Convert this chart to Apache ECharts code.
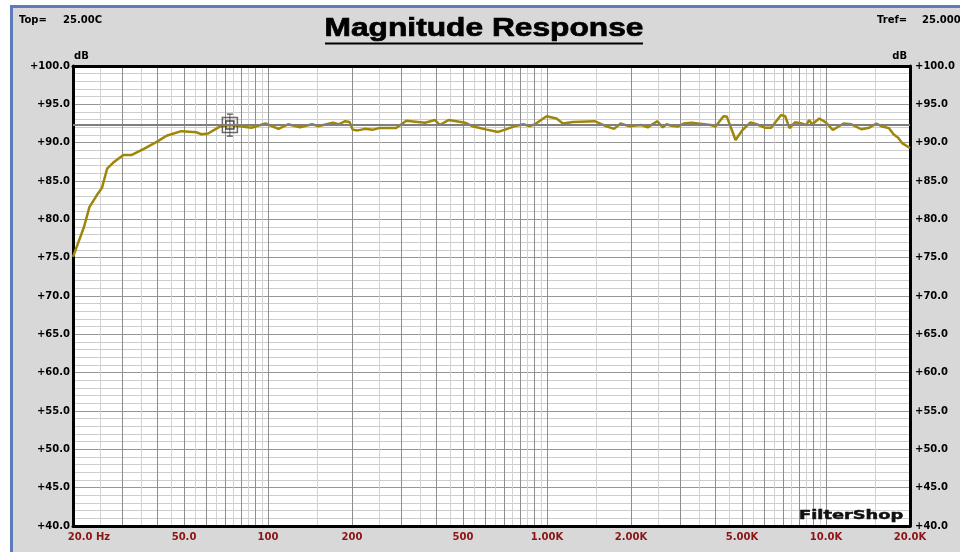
<!DOCTYPE html>
<html>
<head>
<meta charset="utf-8">
<script src="https://cdn.jsdelivr.net/npm/echarts@6/dist/echarts.min.js"></script>
<style>
html, body { margin: 0; padding: 0; background: #fff; }
#chart { width: 960px; height: 552px; }
</style>
</head>
<body>
<div id="chart"></div>
<script>
var freqHz = [20, 21.9, 22.9, 24.3, 25.4, 26.5, 27.9, 30.3, 32.5, 35.9, 39.9, 43.3, 48.9, 55.5, 57.7, 61, 67.2, 72.9, 80.6, 87.2,
    92, 98, 109, 118, 130, 144, 151, 171, 179, 189, 196, 201, 210, 222, 238, 250, 288, 313, 345, 365,
    397, 413, 443, 474, 508, 545, 608, 668, 708, 758, 822, 869, 905, 996, 1081, 1141, 1238, 1481, 1625, 1738,
    1836, 1964, 2180, 2296, 2482, 2600, 2684, 2790, 2940, 3100, 3300, 3860, 4020, 4290, 4410, 4740, 5020, 5360, 5640, 6030,
    6360, 6900, 7140, 7400, 7740, 8170, 8500, 8690, 8920, 9460, 9980, 10580, 11560, 12340, 13380, 14290, 15150, 15900, 16790, 17460,
    18140, 18790, 20000];
var levelDb = [75.1, 79.0, 81.6, 83.1, 84.1, 86.6, 87.4, 88.4, 88.4, 89.2, 90.1, 90.9, 91.5, 91.35, 91.1, 91.2, 92.1, 92.3, 92.1, 91.95,
    92.2, 92.5, 91.8, 92.4, 92.0, 92.4, 92.15, 92.6, 92.4, 92.8, 92.7, 91.7, 91.6, 91.8, 91.7, 91.9, 91.9, 92.85, 92.7, 92.6,
    92.95, 92.3, 92.95, 92.8, 92.6, 92.1, 91.7, 91.4, 91.7, 92.1, 92.4, 92.15, 92.4, 93.45, 93.15, 92.5, 92.7, 92.8, 92.15, 91.8,
    92.5, 92.15, 92.3, 92.0, 92.8, 92.0, 92.4, 92.2, 92.1, 92.5, 92.6, 92.3, 92.1, 93.45, 93.4, 90.35, 91.65, 92.65, 92.4, 91.95,
    91.95, 93.6, 93.45, 91.9, 92.65, 92.5, 92.3, 92.95, 92.4, 93.15, 92.65, 91.65, 92.5, 92.4, 91.75, 91.95, 92.5, 92.1, 91.9, 91.1,
    90.65, 89.9, 89.3];

var tickFreqs = [20, 50, 100, 200, 500, 1000, 2000, 5000, 10000, 20000];
var tickLabels = ['20.0 Hz', '50.0', '100', '200', '500', '1.00K', '2.00K', '5.00K', '10.0K', '20.0K'];
var gridMantissa = [1, 2, 3, 4, 5, 6, 7, 8, 9];
var gridMinorMantissa = [1.5, 2.5, 3.5, 4.5, 5.5, 6.5, 7.5, 8.5, 9.5];
var gridDecades = [10, 100, 1000, 10000];
var trefLevel = 92.3;
var cursorPoint = [73, 92.3];

var F_MIN = 20, F_MAX = 20000, DB_MIN = 40, DB_MAX = 100;

function decadeLines(mant) {
    var out = [];
    gridDecades.forEach(function (d) {
        mant.forEach(function (m) {
            var f = Math.round(m * d * 1000) / 1000;
            if (f > F_MIN && f < F_MAX) out.push(f);
        });
    });
    return out;
}

function freqLabel(v) {
    for (var i = 0; i < tickFreqs.length; i++) {
        if (Math.abs(Math.log10(v / tickFreqs[i])) < 1e-6) {
            return i === 0 ? '{first|' + tickLabels[i] + '}' : tickLabels[i];
        }
    }
    return '';
}

var labelFont = { fontFamily: 'DejaVu Sans', fontWeight: 'bold', fontSize: 10 };
var frameLine = { show: true, onZero: false, lineStyle: { color: '#000', width: 3 } };

function logAxis(extra) {
    return Object.assign({
        type: 'log', logBase: 10, min: F_MIN, max: F_MAX, position: 'bottom',
        axisLine: { show: false, onZero: false }, axisTick: { show: false },
        axisLabel: { show: false }, splitLine: { show: false }
    }, extra);
}
function dbAxis(extra) {
    return Object.assign({
        type: 'value', min: DB_MIN, max: DB_MAX, interval: 5, position: 'left',
        axisLine: { show: false, onZero: false }, axisTick: { show: false },
        axisLabel: { show: false }, splitLine: { show: false }
    }, extra);
}
var dbLabel = Object.assign({
    show: true, color: '#000', margin: 4,
    formatter: function (v) { return '+' + v.toFixed(1); }
}, labelFont);

var chart = echarts.init(document.getElementById('chart'));
chart.setOption({
    animation: false,
    backgroundColor: '#fff',
    grid: { left: 73, right: 50, top: 66, bottom: 26, show: true, backgroundColor: '#fff', borderWidth: 0, outerBoundsMode: 'none' },
    xAxis: [
        logAxis({ z: 0, axisTick: { show: false, customValues: decadeLines(gridMinorMantissa) },
            splitLine: { show: true, lineStyle: { color: '#d2d2d2', width: 1 } } }),
        logAxis({ z: 0, axisTick: { show: false, customValues: decadeLines(gridMantissa) },
            splitLine: { show: true, lineStyle: { color: '#8e8e8e', width: 1 } } }),
        logAxis({ z: 1, axisLine: frameLine,
            axisLabel: Object.assign({ show: true, color: '#8b1414', margin: 6, customValues: tickFreqs,
                formatter: freqLabel, hideOverlap: false,
                rich: { first: Object.assign({ color: '#8b1414', padding: [0, 0, 0, 32] }, labelFont) } }, labelFont) }),
        logAxis({ z: 1, position: 'top', axisLine: frameLine })
    ],
    yAxis: [
        dbAxis({ z: 0, splitLine: { show: true, lineStyle: { color: '#959595', width: 1 } },
            minorTick: { show: false, splitNumber: 5 },
            minorSplitLine: { show: true, lineStyle: { color: '#cdcdcd', width: 1 } } }),
        dbAxis({ z: 1, position: 'right', axisLine: frameLine, axisLabel: Object.assign({}, dbLabel, { margin: 5 }) }),
        dbAxis({ z: 1, position: 'left', axisLine: frameLine, axisLabel: Object.assign({}, dbLabel, { margin: 3 }) })
    ],
    graphic: [
        { type: 'rect', z: -10, silent: true, shape: { x: 10, y: 5, width: 950, height: 547 }, style: { fill: '#5b7bbd' } },
        { type: 'rect', z: -9, silent: true, shape: { x: 13, y: 8, width: 947, height: 544 }, style: { fill: '#d8d8d8' } },
        { type: 'text', x: 484, y: 29, scaleX: 1.22, z: 5,
            style: { text: 'Magnitude Response', font: 'bold 26px "Liberation Sans", Arial, sans-serif', fill: '#000',
                stroke: '#000', lineWidth: 0.7, align: 'center', verticalAlign: 'middle' } },
        { type: 'line', z: 5, shape: { x1: 325, y1: 43.5, x2: 643, y2: 43.5 }, style: { stroke: '#000', lineWidth: 2 } },
        { type: 'text', x: 19, y: 20.5, z: 5, style: { text: 'Top=', font: 'bold 10px "DejaVu Sans"', fill: '#000', verticalAlign: 'middle' } },
        { type: 'text', x: 63, y: 20.5, z: 5, style: { text: '25.00C', font: 'bold 10px "DejaVu Sans"', fill: '#000', verticalAlign: 'middle' } },
        { type: 'text', x: 877, y: 20.5, z: 5, style: { text: 'Tref=', font: 'bold 10px "DejaVu Sans"', fill: '#000', verticalAlign: 'middle' } },
        { type: 'text', x: 922, y: 20.5, z: 5, style: { text: '25.000', font: 'bold 10px "DejaVu Sans"', fill: '#000', verticalAlign: 'middle' } },
        { type: 'text', x: 74, y: 56.5, z: 5, style: { text: 'dB', font: 'bold 10px "DejaVu Sans"', fill: '#000', verticalAlign: 'middle' } },
        { type: 'text', x: 907, y: 56.5, z: 5, style: { text: 'dB', font: 'bold 10px "DejaVu Sans"', fill: '#000', align: 'right', verticalAlign: 'middle' } },
        { type: 'text', x: 799, y: 515.5, scaleX: 1.37, z: 5,
            style: { text: 'FilterShop', font: 'bold 13px "DejaVu Sans"', fill: '#111', stroke: '#111', lineWidth: 0.5,
                verticalAlign: 'middle', textShadowColor: '#888', textShadowOffsetX: 1, textShadowOffsetY: 1, textShadowBlur: 0 } }
    ],
    series: [
        {
            type: 'line', xAxisIndex: 0, yAxisIndex: 0, showSymbol: false, symbol: 'none',
            data: freqHz.map(function (f, i) { return [f, levelDb[i]]; }),
            lineStyle: { color: '#9e860a', width: 2.5 },
            markLine: {
                silent: true, symbol: 'none', label: { show: false },
                lineStyle: { color: '#7f7f7f', width: 2, type: 'solid' },
                data: [{ yAxis: trefLevel }]
            },
            z: 3
        },
        {
            type: 'scatter', xAxisIndex: 0, yAxisIndex: 0, z: 4, data: [cursorPoint],
            symbol: 'rect', symbolSize: 15,
            itemStyle: { color: 'rgba(0,0,0,0)', borderColor: '#444', borderWidth: 1.5 }
        },
        {
            type: 'scatter', xAxisIndex: 0, yAxisIndex: 0, z: 4, data: [cursorPoint],
            symbol: 'rect', symbolSize: 8,
            itemStyle: { color: 'rgba(0,0,0,0)', borderColor: '#222', borderWidth: 1.5 }
        },
        {
            type: 'scatter', xAxisIndex: 0, yAxisIndex: 0, z: 4, data: [cursorPoint],
            symbol: 'path://M7,0L7,22M0,11L14,11M4,0L10,0M4,22L10,22', symbolSize: [14, 22],
            itemStyle: { color: 'none', borderColor: '#222', borderWidth: 1 }
        }
    ]
});
</script>
</body>
</html>
